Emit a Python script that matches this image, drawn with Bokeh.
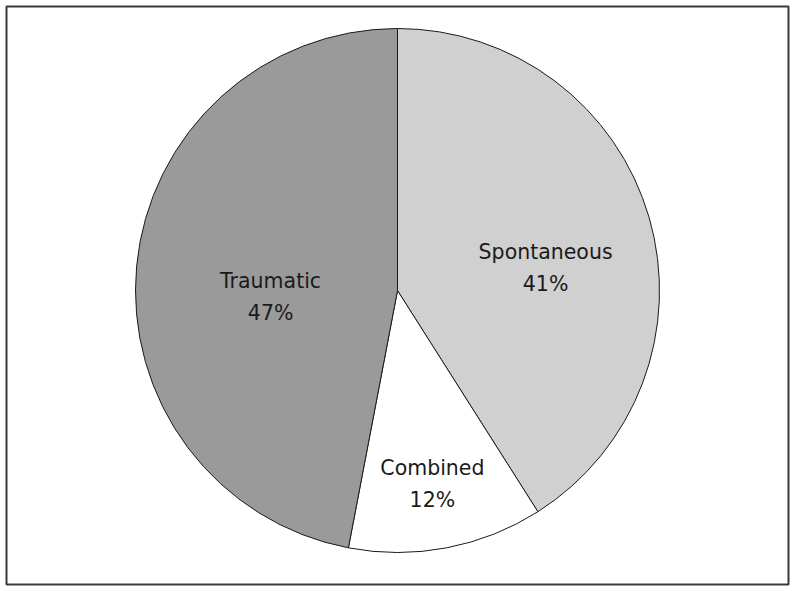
import math
from bokeh.plotting import figure
from bokeh.models import ColumnDataSource, Range1d
from bokeh.core.properties import value
from bokeh.embed import file_html
from bokeh.resources import INLINE

# Data
categories = ["Spontaneous", "Combined", "Traumatic"]
percents = [41, 12, 47]
colors = ["#d0d0d0", "#ffffff", "#9a9a9a"]

# Label placement (angle offset in degrees from slice middle, radius fraction)
label_angle_shift = [-7.4, -0.6, 8.5]
label_radius_frac = [0.572, 0.752, 0.485]

FW, FH = 782, 578
cx, cy, R = 391, 294, 262

p = figure(width=FW + 8, height=FH + 8, output_backend="svg", toolbar_location=None,
           x_range=Range1d(0, FW), y_range=Range1d(0, FH),
           min_border_left=6, min_border_top=6, min_border_right=2, min_border_bottom=2)
p.axis.visible = False
p.grid.visible = False
p.outline_line_color = "#3a3a3a"
p.outline_line_width = 2
p.background_fill_color = "white"
p.border_fill_color = "white"

total = sum(percents)
starts, ends, mids = [], [], []
a = math.pi / 2
for v in percents:
    span = v / total * 2 * math.pi
    e = a - span
    starts.append(e)
    ends.append(a)
    mids.append((a + e) / 2)
    a = e

src = ColumnDataSource(dict(start=starts, end=ends, color=colors,
                            x=[cx] * 3, y=[cy] * 3))
p.wedge(x="x", y="y", radius=R, start_angle="start", end_angle="end",
        fill_color="color", line_color="#1a1a1a", line_width=1, source=src)

lx, ly1, ly2, t1, t2 = [], [], [], [], []
for i, c in enumerate(categories):
    ang = mids[i] + math.radians(label_angle_shift[i])
    r = R * label_radius_frac[i]
    x = cx + r * math.cos(ang)
    y = cy + r * math.sin(ang)
    lx.append(x)
    ly1.append(y + 16)
    ly2.append(y - 16)
    t1.append(c)
    t2.append(f"{percents[i]}%")

for ys, ts in ((ly1, t1), (ly2, t2)):
    p.text(x=lx, y=ys, text=ts, text_align="center", text_baseline="middle",
           text_font=value("DejaVu Sans"), text_font_size="20.5px",
           text_color="#1a1a1a")

open("out.html", "w").write(file_html(p, INLINE))
